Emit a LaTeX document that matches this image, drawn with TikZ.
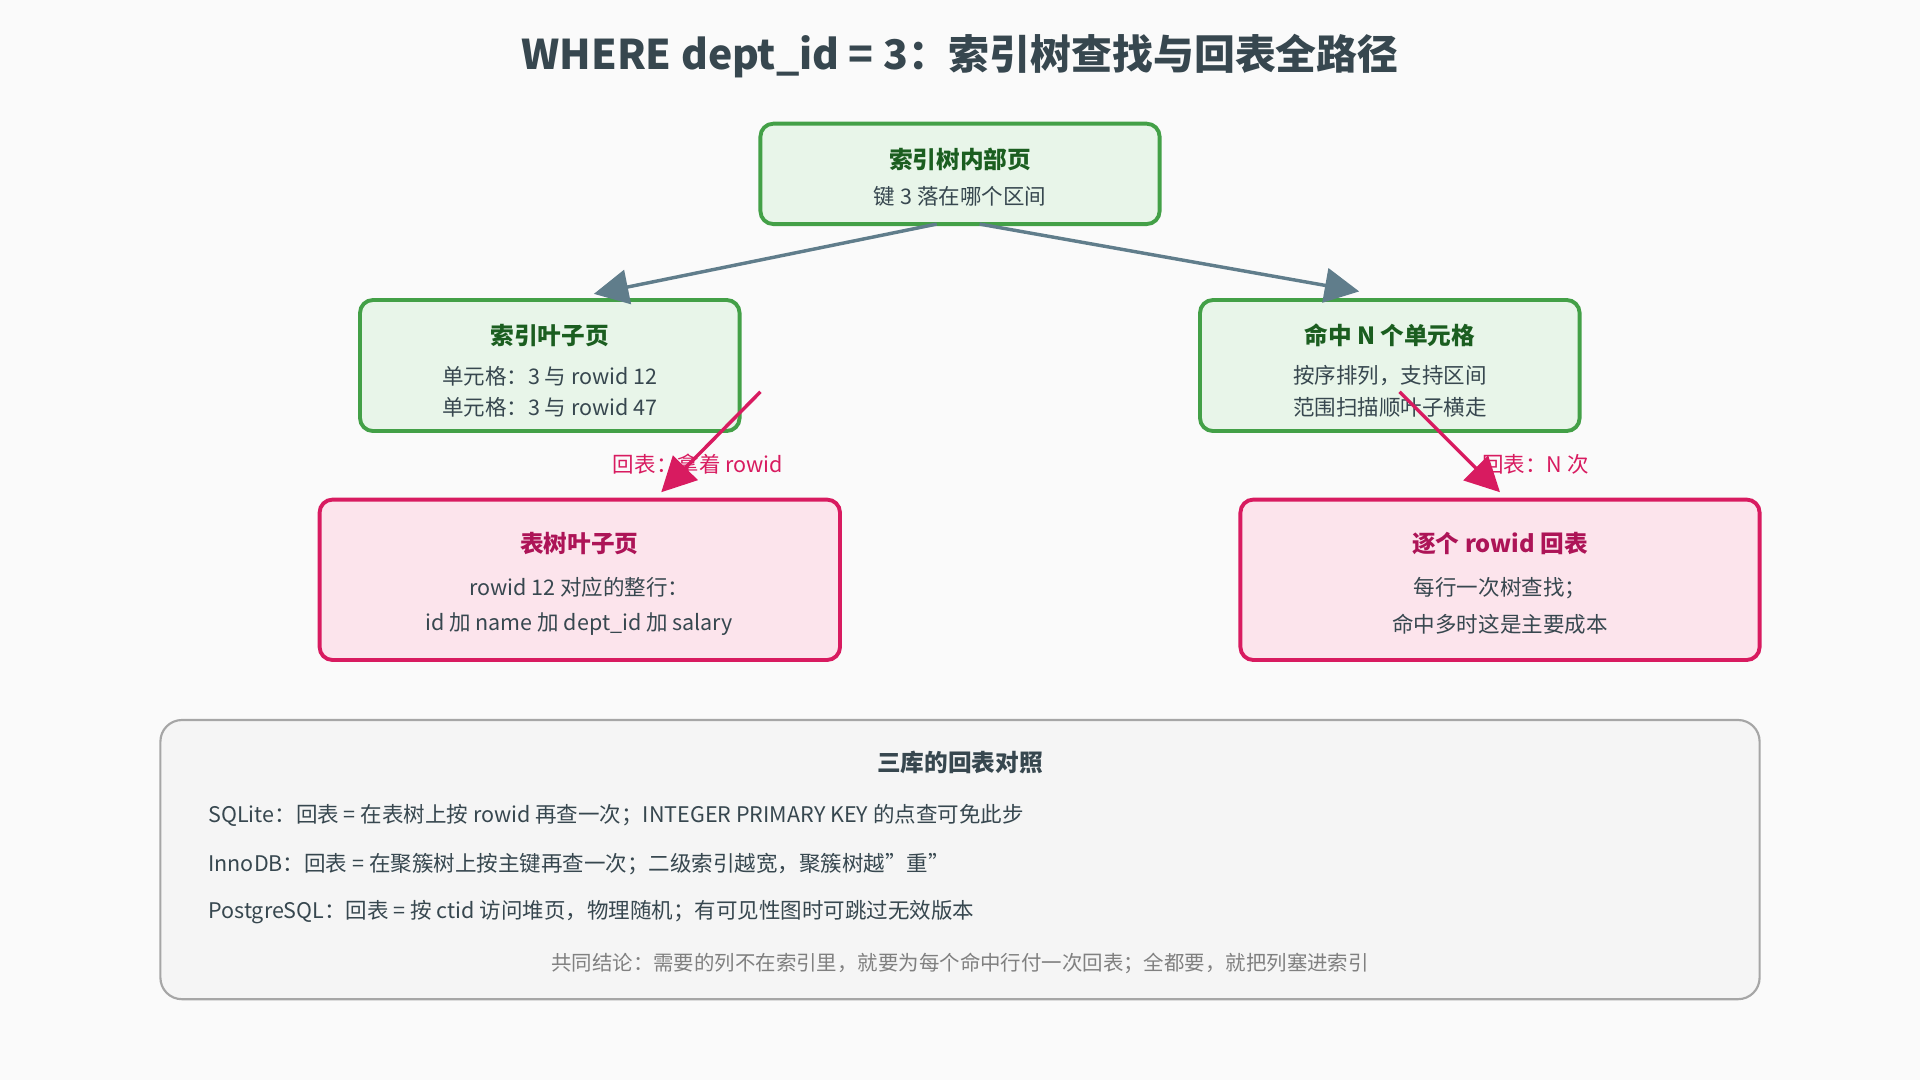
\documentclass[tikz,border=0pt]{standalone}
\usepackage{fontspec}
\setmainfont{Noto Sans CJK SC}
\usetikzlibrary{arrows.meta,positioning}
\definecolor{bgc}{HTML}{FAFAFA}
\definecolor{grnfill}{HTML}{E8F5E9}
\definecolor{grnline}{HTML}{43A047}
\definecolor{grntext}{HTML}{1B5E20}
\definecolor{pnkfill}{HTML}{FCE4EC}
\definecolor{pnkline}{HTML}{D81B60}
\definecolor{pnktext}{HTML}{AD1457}
\definecolor{arrgray}{HTML}{607D8B}
\definecolor{txtdark}{HTML}{37474F}
\tikzset{
  greenbox/.style={draw=grnline,fill=grnfill,line width=1.8pt,rounded corners=6pt},
  pinkbox/.style={draw=pnkline,fill=pnkfill,line width=1.8pt,rounded corners=6pt},
  treearrow/.style={draw=arrgray,line width=1.6pt,-{Triangle[length=16pt,width=16pt]}},
  backarrow/.style={draw=pnkline,line width=1.6pt,-{Triangle[length=16pt,width=16pt]}},
  boxtitle/.style={font=\bfseries\fontsize{11}{13}\selectfont},
  boxline/.style={font=\fontsize{10}{12}\selectfont,text=txtdark},
}
\begin{document}
\begin{tikzpicture}[x=0.02cm,y=-0.02cm]
\useasboundingbox[fill=bgc] (0,0) rectangle (1568,882);
\node[font=\bfseries\fontsize{19}{22}\selectfont,text=txtdark] (title) at (784,46) {WHERE dept\_id = 3：索引树查找与回表全路径};

% Index tree nodes
\draw[greenbox] (621,101) rectangle (947,183);
\node[boxtitle,text=grntext] (inner) at (784,130) {索引树内部页};
\node[boxline] at (784,160) {键 3 落在哪个区间};
\coordinate (innerL) at (765,183);
\coordinate (innerR) at (800,183);

\draw[greenbox] (294,245) rectangle (604,352);
\node[boxtitle,text=grntext] (leaf) at (449,274) {索引叶子页};
\node[boxline] at (449,307) {单元格：3 与 rowid 12};
\node[boxline] at (449,333) {单元格：3 与 rowid 47};
\coordinate (leafT) at (485,240);

\draw[greenbox] (980,245) rectangle (1290,352);
\node[boxtitle,text=grntext] (hits) at (1135,274) {命中 N 个单元格};
\node[boxline] at (1135,307) {按序排列，支持区间};
\node[boxline] at (1135,333) {范围扫描顺叶子横走};
\coordinate (hitsT) at (1110,238);

% Table tree nodes
\draw[pinkbox] (261,408) rectangle (686,539);
\node[boxtitle,text=pnktext] (tleaf) at (473,444) {表树叶子页};
\node[boxline] at (473,480) {rowid 12 对应的整行：};
\node[boxline] at (473,510) {id 加 name 加 dept\_id 加 salary};

\draw[pinkbox] (1013,408) rectangle (1437,539);
\node[boxtitle,text=pnktext] (each) at (1225,444) {逐个 rowid 回表};
\node[boxline] at (1225,480) {每行一次树查找；};
\node[boxline] at (1225,510) {命中多时这是主要成本};

% Arrows
\draw[treearrow] (innerL) -- (leafT);
\draw[treearrow] (innerR) -- (hitsT);
\coordinate (b1s) at (621,320); \coordinate (b1e) at (540,402);
\coordinate (b2s) at (1143,320); \coordinate (b2e) at (1225,402);
\draw[backarrow] (b1s) -- (b1e);
\draw[backarrow] (b2s) -- (b2e);
\node[font=\fontsize{10}{12}\selectfont,text=pnkline] (lab1) at (570,379) {回表：拿着 rowid};
\node[font=\fontsize{10}{12}\selectfont,text=pnkline] (lab2) at (1254,379) {回表：N 次};

% Comparison panel
\draw[draw=gray!70,fill=gray!8,line width=1pt,rounded corners=10pt] (131,588) rectangle (1437,816);
\node[boxtitle,text=txtdark] (cmp) at (784,623) {三库的回表对照};
\node[boxline,anchor=west] at (164,666) {SQLite：回表 = 在表树上按 rowid 再查一次；INTEGER PRIMARY KEY 的点查可免此步};
\node[boxline,anchor=west] at (164,706) {InnoDB：回表 = 在聚簇树上按主键再查一次；二级索引越宽，聚簇树越"重"};
\node[boxline,anchor=west] at (164,745) {PostgreSQL：回表 = 按 ctid 访问堆页，物理随机；有可见性图时可跳过无效版本};
\node[font=\fontsize{9.5}{12}\selectfont,text=gray] at (784,787) {共同结论：需要的列不在索引里，就要为每个命中行付一次回表；全都要，就把列塞进索引};
\end{tikzpicture}
\end{document}
